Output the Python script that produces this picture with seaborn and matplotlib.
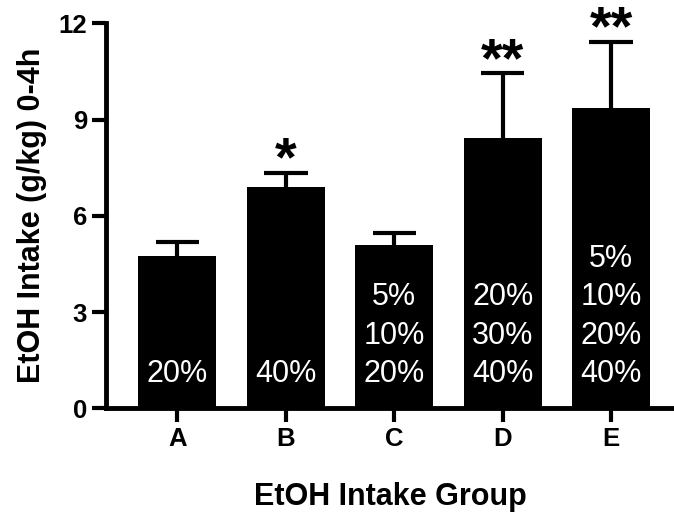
import numpy as np
import pandas as pd
import matplotlib
matplotlib.use("Agg")
import matplotlib.pyplot as plt
import seaborn as sns

# veriler
groups = ["A", "B", "C", "D", "E"]
intake = [4.75, 6.9, 5.1, 8.44, 9.35]
sem = [0.42, 0.43, 0.37, 2.0, 2.06]
stars = ["", "*", "", "**", "**"]
conc_labels = [["20%"], ["40%"], ["5%", "10%", "20%"], ["20%", "30%", "40%"], ["5%", "10%", "20%", "40%"]]

sns.set_style("ticks")
plt.rcParams["font.family"] = ["Liberation Sans", "DejaVu Sans"]
for k in ["text.color", "axes.labelcolor", "xtick.color", "ytick.color", "axes.edgecolor"]:
    plt.rcParams[k] = "black"

df = pd.DataFrame({"group": groups, "intake": intake})

fig = plt.figure(figsize=(6.74, 5.2), dpi=100)
ax = fig.add_axes([0.157, 0.215, 0.843, 0.74])

sns.barplot(data=df, x="group", y="intake", color="black", width=0.72,
            saturation=1, errorbar=None, ax=ax, zorder=2, linewidth=0)

# sadece yukarı hata çubukları
xs = np.arange(len(groups))
tops = np.array(intake) + np.array(sem)
ax.vlines(xs, intake, tops, color="black", linewidth=3, zorder=1)
ax.hlines(tops, xs - 0.2, xs + 0.2, color="black", linewidth=3, zorder=1)

for i, s in enumerate(stars):
    if s:
        ax.text(i, tops[i] - 0.45, s, ha="center", va="bottom",
                fontsize=40, fontweight="bold", clip_on=False)

# beyaz yüzde etiketleri
for i, labs in enumerate(conc_labels):
    n = len(labs)
    for j, lab in enumerate(labs):
        ypos = 1.06 + (n - 1 - j) * 1.2
        ax.text(i, ypos, lab, ha="center", va="center", color="white", fontsize=22)

ax.set_xlim(-0.66, 4.58)
ax.set_ylim(0, 12)
ax.set_yticks([0, 3, 6, 9, 12])
ax.set_xlabel("EtOH Intake Group", fontsize=22, fontweight="bold", labelpad=22)
ax.set_ylabel("EtOH Intake (g/kg) 0-4h", fontsize=22, fontweight="bold", labelpad=8)
ax.tick_params(axis="both", width=3, length=10, labelsize=18.5, direction="out")
for lab in ax.get_xticklabels() + ax.get_yticklabels():
    lab.set_fontweight("bold")
sns.despine(ax=ax)
ax.spines["left"].set_linewidth(3.5)
ax.spines["bottom"].set_linewidth(3.5)

fig.savefig("out.png", dpi=100)
